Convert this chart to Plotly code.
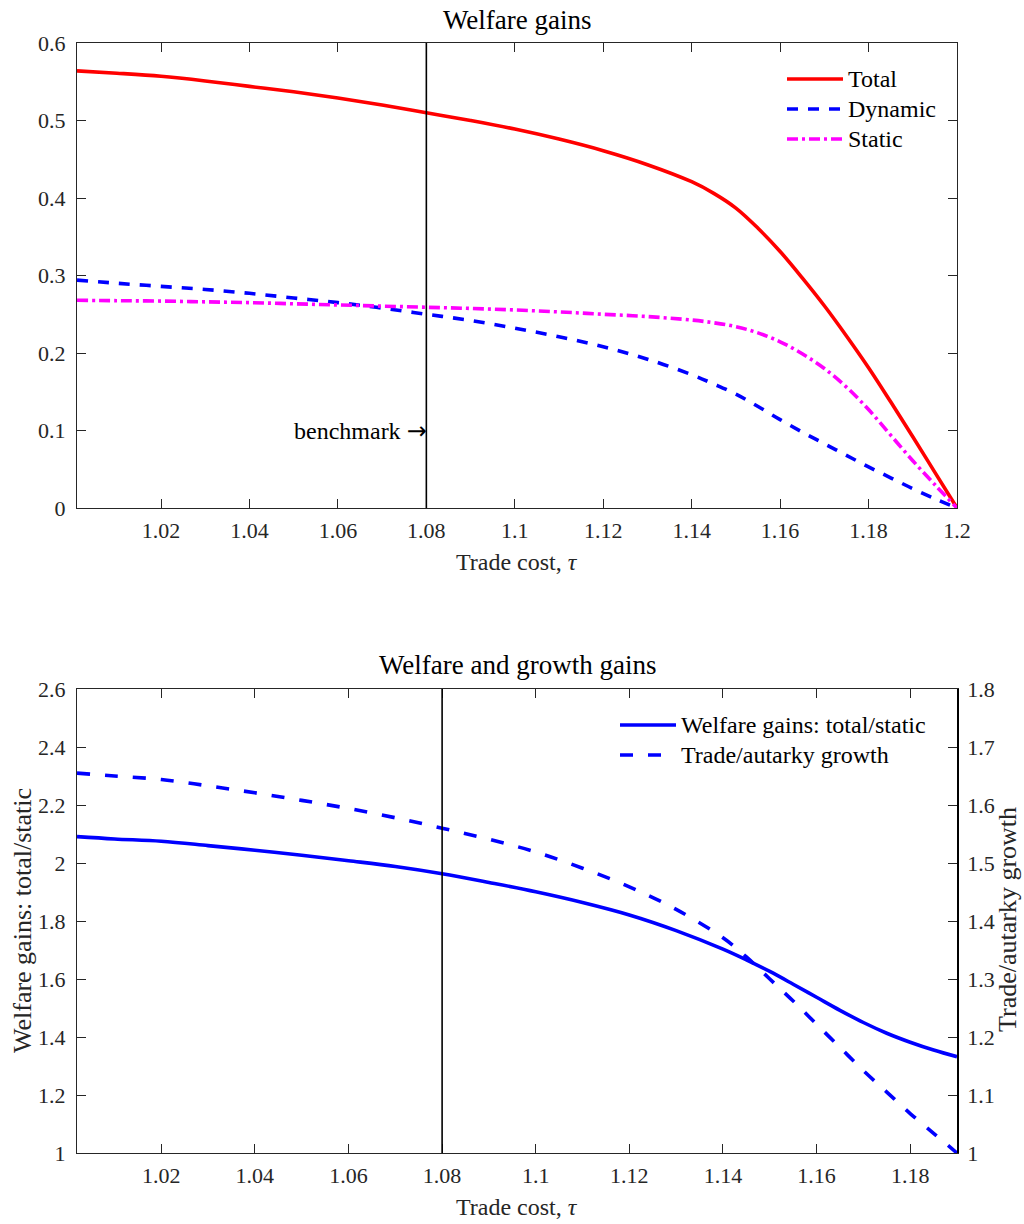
import plotly.graph_objects as go

# ---------------- data ----------------
tau_top = [1.001, 1.01, 1.02, 1.03, 1.04, 1.05, 1.06, 1.07, 1.08, 1.09, 1.10,
           1.11, 1.12, 1.13, 1.14, 1.145, 1.15, 1.155, 1.16, 1.165, 1.17,
           1.175, 1.18, 1.185, 1.19, 1.195, 1.2]
total = [0.564, 0.561, 0.557, 0.551, 0.544, 0.537, 0.529, 0.520, 0.510, 0.500,
         0.489, 0.476, 0.461, 0.443, 0.421, 0.406, 0.387, 0.361, 0.331, 0.297,
         0.261, 0.222, 0.181, 0.137, 0.092, 0.046, 0.0]
dynamic = [0.294, 0.290, 0.286, 0.282, 0.277, 0.271, 0.265, 0.258, 0.250, 0.242,
           0.232, 0.221, 0.208, 0.192, 0.172, 0.160, 0.147, 0.131, 0.114, 0.098,
           0.083, 0.068, 0.053, 0.039, 0.025, 0.012, 0.0]
static = [0.268, 0.2675, 0.267, 0.266, 0.265, 0.2635, 0.262, 0.2605, 0.259, 0.2575,
          0.2555, 0.253, 0.250, 0.247, 0.2425, 0.239, 0.234, 0.226, 0.2145, 0.199,
          0.180, 0.156, 0.127, 0.094, 0.061, 0.030, 0.0]

tau_bot = [1.002, 1.01, 1.02, 1.03, 1.04, 1.05, 1.06, 1.07, 1.08, 1.09, 1.10,
           1.11, 1.12, 1.13, 1.14, 1.145, 1.15, 1.155, 1.16, 1.165, 1.17,
           1.175, 1.18, 1.185, 1.19]
welfare_ratio = [2.091, 2.083, 2.075, 2.060, 2.044, 2.027, 2.008, 1.988, 1.963,
                 1.933, 1.901, 1.864, 1.821, 1.767, 1.703, 1.666, 1.626, 1.582,
                 1.537, 1.492, 1.450, 1.413, 1.382, 1.355, 1.332]
growth_ratio = [1.655, 1.650, 1.644, 1.633, 1.621, 1.608, 1.594, 1.578, 1.560,
                1.541, 1.519, 1.491, 1.459, 1.420, 1.371, 1.338, 1.300, 1.262,
                1.222, 1.182, 1.142, 1.105, 1.068, 1.034, 1.000]

series_top_names = ["Total", "Dynamic", "Static"]
series_bot_names = ["Welfare gains: total/static", "Trade/autarky growth"]

BENCHMARK = 1.08

# ---------------- styling ----------------
FONT = "Liberation Serif"
AX = "#262626"
TICK = 22

STYLE_TOP = [dict(color="#ff0000", width=3.6, dash="solid"),
             dict(color="#0000ff", width=3.6, dash="11px,10px"),
             dict(color="#ff00ff", width=3.6, dash="11px,4px,3px,4px")]
STYLE_BOT = [dict(color="#0000ff", width=3.6, dash="solid"),
             dict(color="#0000ff", width=3.6, dash="13px,15px")]

fig = go.Figure()
for name, ys, st in zip(series_top_names, [total, dynamic, static], STYLE_TOP):
    fig.add_trace(go.Scatter(x=tau_top, y=ys, name=name, mode="lines", showlegend=False,
                             line=dict(**st, shape="spline", smoothing=1.0),
                             xaxis="x", yaxis="y"))
for name, ys, st, ya in zip(series_bot_names, [welfare_ratio, growth_ratio], STYLE_BOT, ["y2", "y3"]):
    fig.add_trace(go.Scatter(x=tau_bot, y=ys, name=name, mode="lines", showlegend=False,
                             line=dict(**st, shape="spline", smoothing=1.0),
                             xaxis="x2", yaxis=ya))

W, H = 1024, 1224
def px(x):
    return x / W
def py(y):
    return 1 - y / H

XDOM = [px(77), px(957)]
TOPDOM = [py(508), py(43)]
BOTDOM = [py(1153), py(689)]

common = dict(showgrid=False, zeroline=False, showline=True, linecolor=AX, linewidth=1,
              ticks="inside", ticklen=9, tickcolor=AX, tickwidth=1, automargin=False,
              tickfont=dict(family=FONT, size=TICK, color=AX))

fig.update_layout(
    width=W, height=H,
    margin=dict(l=0, r=0, t=0, b=0, pad=0, autoexpand=False),
    paper_bgcolor="white", plot_bgcolor="white",
    font=dict(family=FONT, color="#000000"),
    showlegend=False,
    xaxis=dict(domain=XDOM, anchor="y", range=[1.001, 1.2], tick0=1.0, dtick=0.02,
               mirror="ticks", ticklabelstandoff=3, **common),
    yaxis=dict(domain=TOPDOM, anchor="x", range=[0, 0.6], tick0=0, dtick=0.1,
               mirror="ticks", ticklabelstandoff=6, **common),
    xaxis2=dict(domain=XDOM, anchor="y2", range=[1.002, 1.19], tick0=1.0, dtick=0.02,
                mirror="ticks", ticklabelstandoff=3, **common),
    yaxis2=dict(domain=BOTDOM, anchor="x2", range=[1, 2.6], tick0=1, dtick=0.2,
                mirror=False, ticklabelstandoff=6, **common),
    yaxis3=dict(overlaying="y2", side="right", anchor="x2", range=[1, 1.8], tick0=1, dtick=0.1,
                ticklabelstandoff=4,
                **{**common, "linecolor": "#000000", "linewidth": 1.5}),
)

# benchmark vertical lines
fig.add_shape(type="line", xref="x", yref="y domain", x0=BENCHMARK, x1=BENCHMARK, y0=0, y1=1,
              line=dict(color="#000000", width=1.6))
fig.add_shape(type="line", xref="x2", yref="y2 domain", x0=BENCHMARK, x1=BENCHMARK, y0=0, y1=1,
              line=dict(color="#000000", width=1.6))

ann = []

# hand-drawn legends (line samples + labels)
LEG_FONT = 24
def legend_block(names, styles, x_line0, x_line1, y0, dy):
    for i, (nm, st) in enumerate(zip(names, styles)):
        yy = y0 + i * dy
        fig.add_shape(type="line", xref="paper", yref="paper",
                      x0=px(x_line0), x1=px(x_line1), y0=py(yy), y1=py(yy),
                      line=dict(color=st["color"], width=st["width"], dash=st["dash"]))
        ann.append(dict(text=nm, x=px(x_line1 + 3), y=py(yy), xref="paper", yref="paper",
                        xanchor="left", yanchor="middle", showarrow=False,
                        font=dict(family=FONT, size=LEG_FONT, color="#000000")))

legend_block(series_top_names, STYLE_TOP, 787, 843, 79, 30)
legend_block(series_bot_names, STYLE_BOT, 620, 676, 725, 30)

ann.append(dict(text='benchmark <span style="font-family:DejaVu Sans">→</span>',
                x=BENCHMARK, y=0.1, xref="x", yref="y", xshift=3,
                xanchor="right", yanchor="middle", showarrow=False,
                font=dict(family=FONT, size=24, color="#000000")))
ann.append(dict(text="Welfare gains", x=px(517), y=py(20), xref="paper", yref="paper",
                xanchor="center", yanchor="middle", showarrow=False,
                font=dict(family=FONT, size=27, color="#000000")))
ann.append(dict(text="Welfare and growth gains", x=px(517), y=py(665), xref="paper", yref="paper",
                xanchor="center", yanchor="middle", showarrow=False,
                font=dict(family=FONT, size=27, color="#000000")))
for yy in (562, 1207):
    ann.append(dict(text="Trade cost, <i>τ</i>", x=px(517), y=py(yy), xref="paper", yref="paper",
                    xanchor="center", yanchor="middle", showarrow=False,
                    font=dict(family=FONT, size=24, color=AX)))
ann.append(dict(text="Welfare gains: total/static", x=px(22), y=py(921), xref="paper", yref="paper",
                xanchor="center", yanchor="middle", showarrow=False, textangle=-90,
                font=dict(family=FONT, size=26, color=AX)))
ann.append(dict(text="Trade/autarky growth", x=px(1007), y=py(920), xref="paper", yref="paper",
                xanchor="center", yanchor="middle", showarrow=False, textangle=-90,
                font=dict(family=FONT, size=26, color=AX)))
fig.update_layout(annotations=ann)

fig.write_html("out.html")
